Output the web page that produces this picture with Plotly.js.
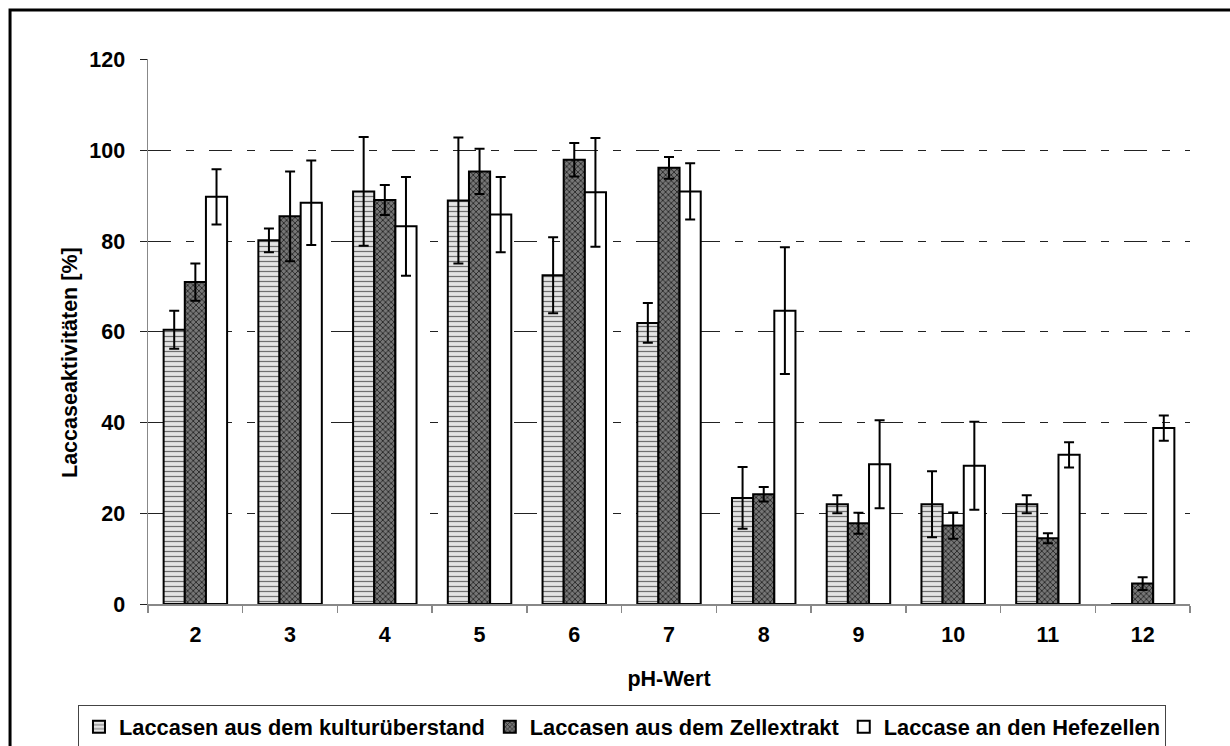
<!DOCTYPE html>
<html>
<head>
<meta charset="utf-8">
<script src="https://cdn.plot.ly/plotly-3.0.1.min.js"></script>
<style>
  html, body { margin: 0; padding: 0; background: #fff; }
  #chart { width: 1230px; height: 746px; }
</style>
</head>
<body>
<div id="chart"></div>
<script>
// pH values on the x axis
const phLabels = ['2', '3', '4', '5', '6', '7', '8', '9', '10', '11', '12'];

// Laccase activity [%] and standard deviations per fraction
const kulturValues = [60.5, 80.2, 91.0, 89.0, 72.5, 62.0, 23.4, 22.0, 22.0, 22.0, 0];
const kulturErrors = [4.2, 2.6, 12.0, 13.9, 8.4, 4.4, 6.8, 2.0, 7.3, 2.0, null];

const zellValues = [71.0, 85.5, 89.1, 95.4, 98.0, 96.2, 24.2, 17.8, 17.3, 14.5, 4.5];
const zellErrors = [4.1, 9.9, 3.3, 5.0, 3.7, 2.4, 1.6, 2.3, 2.9, 1.1, 1.4];

const hefeValues = [89.8, 88.5, 83.3, 85.9, 90.8, 91.0, 64.7, 30.8, 30.5, 32.9, 38.8];
const hefeErrors = [6.1, 9.3, 10.9, 8.3, 12.0, 6.2, 14.0, 9.7, 9.7, 2.8, 2.8];

const seriesNames = [
  'Laccasen aus dem kulturüberstand',
  'Laccasen aus dem Zellextrakt',
  'Laccase an den Hefezellen'
];

const xTitle = 'pH-Wert';
const yTitle = 'Laccaseaktivitäten [%]';

const FONT = 'Liberation Sans, Arial, Helvetica, sans-serif';
const AXIS_FONT = { family: FONT, size: 21.5, weight: 'bold', color: '#000' };

function errorBars(arr) {
  return { type: 'data', array: arr, visible: true, color: '#000', thickness: 2, width: 5 };
}

const outline = { color: '#000', width: 2 };

const traces = [
  {
    type: 'bar', name: seriesNames[0], x: phLabels, y: kulturValues,
    error_y: errorBars(kulturErrors),
    marker: {
      color: '#d4d4d4', line: outline,
      pattern: { shape: '-', fgcolor: '#707070', bgcolor: '#e4e4e4', size: 5, solidity: 0.25 }
    }
  },
  {
    type: 'bar', name: seriesNames[1], x: phLabels, y: zellValues,
    error_y: errorBars(zellErrors),
    marker: {
      color: '#666', line: outline,
      pattern: { shape: 'x', fgcolor: '#262626', bgcolor: '#767676', size: 4, solidity: 0.4 }
    }
  },
  {
    type: 'bar', name: seriesNames[2], x: phLabels, y: hefeValues,
    error_y: errorBars(hefeErrors),
    marker: { color: '#fff', line: outline }
  }
];

const layout = {
  width: 1230, height: 746,
  paper_bgcolor: '#fff', plot_bgcolor: '#fff',
  margin: { l: 148, r: 40, t: 59, b: 142, autoexpand: false },
  font: { family: FONT, color: '#000', size: 21.5, weight: 'bold' },
  barmode: 'group', bargap: 0.33, bargroupgap: 0,
  showlegend: true,
  legend: {
    orientation: 'h',
    x: -0.0672, xanchor: 'left', y: -0.1855, yanchor: 'top',
    bordercolor: '#444', borderwidth: 1, bgcolor: '#fff',
    font: { family: FONT, size: 21.8, weight: 'bold', color: '#000' },
    itemwidth: 30, tracegroupgap: 0
  },
  xaxis: {
    type: 'category',
    showline: true, linecolor: '#888', linewidth: 1.5,
    ticks: 'outside', tickson: 'boundaries', ticklen: 7, tickcolor: '#888', tickwidth: 1.5,
    ticklabelstandoff: 11,
    tickfont: AXIS_FONT,
    showgrid: false, zeroline: false,
    title: { text: xTitle, font: AXIS_FONT, standoff: 24 }
  },
  yaxis: {
    range: [0, 120.2], tickvals: [0, 20, 40, 60, 80, 100, 120],
    showline: true, linecolor: '#888', linewidth: 1.5,
    ticks: 'outside', ticklen: 7, tickcolor: '#222', tickwidth: 1,
    ticklabelstandoff: 10,
    tickfont: AXIS_FONT,
    showgrid: true, gridcolor: '#222', gridwidth: 1, griddash: '23px,15px,8px,15px',
    zeroline: false
  },
  annotations: [
    {
      text: yTitle, textangle: -90, showarrow: false,
      xref: 'paper', yref: 'paper', x: -0.0749, y: 0.444,
      xanchor: 'center', yanchor: 'middle', font: AXIS_FONT
    }
  ],
  shapes: [
    {
      type: 'rect', xref: 'paper', yref: 'paper',
      x0: -0.1324, x1: 1.08, y0: -0.3, y1: 1.09,
      line: { color: '#000', width: 3 }, fillcolor: 'rgba(0,0,0,0)', layer: 'above'
    }
  ]
};

Plotly.newPlot('chart', traces, layout, { displayModeBar: false, staticPlot: true });
</script>
</body>
</html>
